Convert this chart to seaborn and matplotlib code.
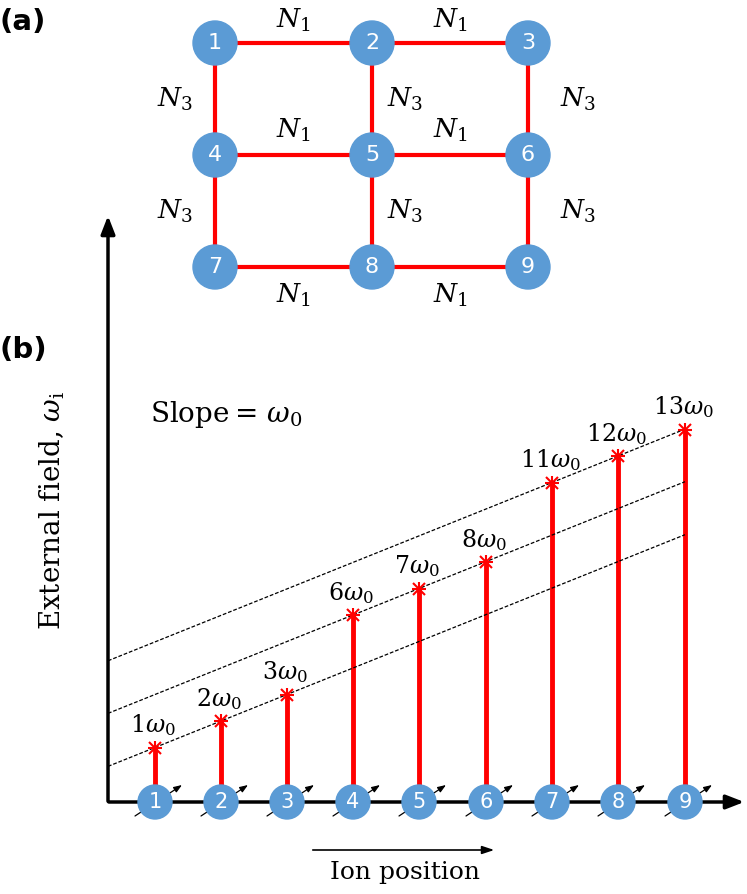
import matplotlib
matplotlib.use("Agg")
import matplotlib.pyplot as plt
import seaborn as sns
import numpy as np

sns.set_theme(style="white")
plt.rcParams['font.family'] = ['DejaVu Sans']
plt.rcParams['mathtext.fontset'] = 'dejavuserif'
plt.rcParams['text.color'] = 'black'

# data
grid_nodes = [1, 2, 3, 4, 5, 6, 7, 8, 9]
grid_x = [215, 372, 528]
grid_y = [43, 155, 267]
ions = [1, 2, 3, 4, 5, 6, 7, 8, 9]
ion_x = [155, 221, 287, 353, 419, 486, 552, 618, 685]
freq_mult = [1, 2, 3, 6, 7, 8, 11, 12, 13]

BLUE = "#5b9bd5"
RED = "#ff0000"

fig = plt.figure(figsize=(7.47, 8.94), dpi=100)
ax = fig.add_axes([0, 0, 1, 1])
ax.set_xlim(0, 747)
ax.set_ylim(894, 0)
ax.axis("off")

# ---- panel (a)
ax.text(0, 22, "(a)", fontsize=21, fontweight="bold", va="center")
for r in range(3):
    ax.plot([grid_x[0], grid_x[2]], [grid_y[r]] * 2, color=RED, lw=3, zorder=1)
for c in range(3):
    ax.plot([grid_x[c]] * 2, [grid_y[0], grid_y[2]], color=RED, lw=3, zorder=1)
for i, n in enumerate(grid_nodes):
    x, y = grid_x[i % 3], grid_y[i // 3]
    ax.add_patch(plt.Circle((x, y), 22, color=BLUE, zorder=2))
    ax.text(x, y, str(n), color="white", fontsize=16, ha="center", va="center", zorder=3)
n1 = r"$N_1$"; n3 = r"$N_3$"
for xm in [(grid_x[0] + grid_x[1]) / 2, (grid_x[1] + grid_x[2]) / 2]:
    ax.text(xm, 20, n1, fontsize=19, ha="center", va="center")
    ax.text(xm, 130, n1, fontsize=19, ha="center", va="center")
    ax.text(xm, 295, n1, fontsize=19, ha="center", va="center")
for ym in [(grid_y[0] + grid_y[1]) / 2, (grid_y[1] + grid_y[2]) / 2]:
    ax.text(175, ym, n3, fontsize=19, ha="center", va="center")
    ax.text(405, ym, n3, fontsize=19, ha="center", va="center")
    ax.text(578, ym, n3, fontsize=19, ha="center", va="center")

# ---- panel (b)
ax.text(0, 350, "(b)", fontsize=21, fontweight="bold", va="center")
y0 = 802
def yv(v):
    return 774 - 26.5 * v
ax.annotate("", xy=(108, 213), xytext=(108, y0 + 2),
            arrowprops=dict(arrowstyle="-|>,head_width=0.35,head_length=0.9", color="black", lw=2.5))
ax.annotate("", xy=(747, y0), xytext=(106, y0),
            arrowprops=dict(arrowstyle="-|>,head_width=0.35,head_length=0.9", color="black", lw=2.5))
for k in [0, 1, 2]:
    xa, xb = 108, 685
    i0 = 3 * k
    slope = (yv(freq_mult[i0 + 1]) - yv(freq_mult[i0])) / (ion_x[i0 + 1] - ion_x[i0])
    ya = yv(freq_mult[i0]) + slope * (xa - ion_x[i0])
    yb = yv(freq_mult[i0]) + slope * (xb - ion_x[i0])
    ax.plot([xa, xb], [ya, yb], ls="--", color="black", lw=0.9, dashes=(3, 1.5))
for x, m, n in zip(ion_x, freq_mult, ions):
    yt = yv(m)
    ax.plot([x, x], [y0, yt], color=RED, lw=3.5, zorder=1)
    ax.plot(x, yt, marker="x", color=RED, ms=8, mew=1.5, zorder=3)
    ax.plot(x, yt, marker="+", color=RED, ms=10, mew=1.5, zorder=3)
    ax.text(x - 2, yt - 22, rf"${m}\omega_0$", fontsize=17, ha="center", va="center")
    ax.annotate("", xy=(x + 27, y0 - 17), xytext=(x - 20, y0 + 14),
                arrowprops=dict(arrowstyle="-|>,head_width=0.15,head_length=0.4", color="black", lw=0.9,
                                shrinkA=0, shrinkB=0), zorder=3)
    ax.add_patch(plt.Circle((x, y0), 17, color=BLUE, zorder=4))
    ax.text(x, y0, str(n), color="white", fontsize=15, ha="center", va="center", zorder=5)
ax.text(150, 415, r"Slope$=\,\omega_0$", fontsize=20, va="center", family="serif")
ax.text(52, 510, r"External field, $\omega_\mathrm{i}$", fontsize=20, rotation=90,
        ha="center", va="center", family="serif")
ax.annotate("", xy=(497, 850), xytext=(310, 850),
            arrowprops=dict(arrowstyle="-|>,head_width=0.2,head_length=0.6", color="black", lw=1.2))
ax.text(405, 873, "Ion position", fontsize=18, ha="center", va="center", family="serif")

fig.savefig("out.png", dpi=100)
